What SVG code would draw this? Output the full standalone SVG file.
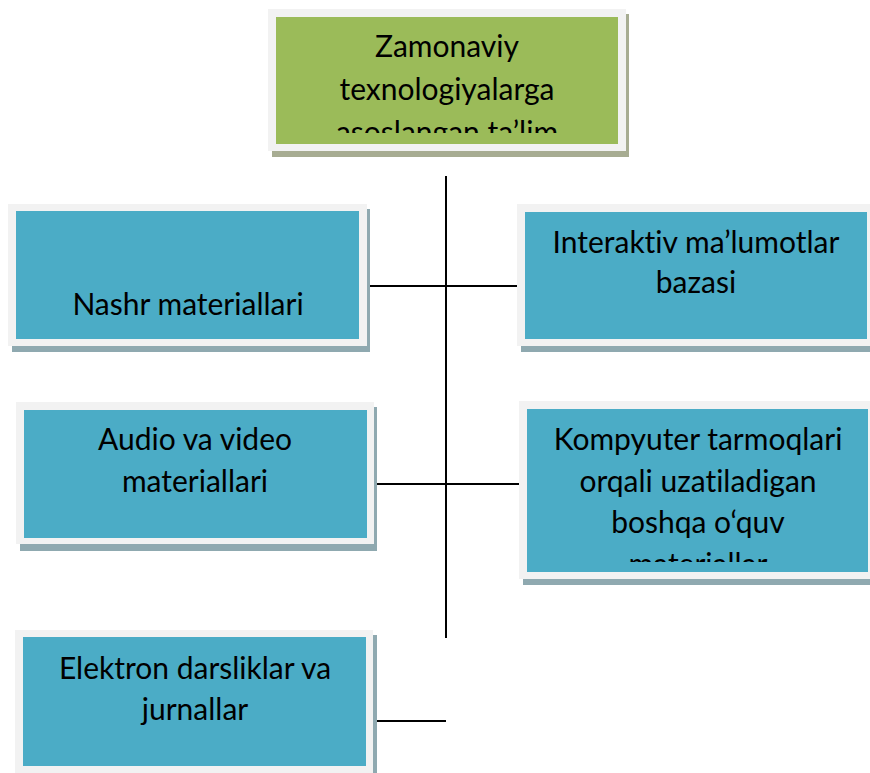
<svg xmlns="http://www.w3.org/2000/svg" width="870" height="773" viewBox="0 0 870 773">
<style>
.frame{fill:#f2f2f2}
.sh{fill:#8fa9b0}
.shg{fill:#a7ac92}
.box{fill:#4bacc6}
.gbox{fill:#9bbb59}
text{font-family:Lato,"Open Sans","Noto Sans",sans-serif;font-size:30px;fill:#000;text-anchor:middle;font-variant-ligatures:none;font-feature-settings:"liga" 0}
.ln{stroke:#000;stroke-width:2;fill:none}
</style>
<defs>
<clipPath id="c0"><rect x="276" y="17" width="342" height="116"/></clipPath>
<clipPath id="c4"><rect x="527" y="409" width="341" height="153"/></clipPath>
</defs>
<rect width="870" height="773" fill="#fff"/>
<g id="connectors">
<line class="ln" x1="446" y1="176" x2="446" y2="638"/>
<line class="ln" x1="370" y1="286" x2="518" y2="286"/>
<line class="ln" x1="375" y1="484" x2="520" y2="484"/>
<line class="ln" x1="373" y1="721" x2="446" y2="721"/>
</g>
<g id="n0">
<rect class="shg" x="272" y="14" width="357" height="143"/>
<rect class="frame" x="268" y="9" width="358" height="142"/>
<rect class="gbox" x="276" y="17" width="342" height="127"/>
<g clip-path="url(#c0)">
<text x="447" y="57">Zamonaviy</text>
<text x="447" y="100">texnologiyalarga</text>
<text x="447" y="143">asoslangan ta’lim</text>
</g>
</g>
<g id="n1">
<rect class="sh" x="12" y="209" width="358" height="143"/>
<rect class="frame" x="8" y="204" width="359" height="142"/>
<rect class="box" x="16" y="211" width="343" height="128"/>
<text x="188" y="315">Nashr materiallari</text>
</g>
<g id="n2">
<rect class="sh" x="521" y="209" width="349" height="143"/>
<rect class="frame" x="517" y="204" width="353" height="142"/>
<rect class="box" x="525" y="212" width="342" height="127"/>
<text x="696" y="253">Interaktiv ma’lumotlar</text>
<text x="696" y="293">bazasi</text>
</g>
<g id="n3">
<rect class="sh" x="20" y="407" width="357" height="144"/>
<rect class="frame" x="16" y="402" width="358" height="142"/>
<rect class="box" x="24" y="410" width="343" height="128"/>
<text x="195" y="450">Audio va video</text>
<text x="195" y="492">materiallari</text>
</g>
<g id="n4">
<rect class="sh" x="523" y="406" width="347" height="179"/>
<rect class="frame" x="519" y="401" width="351" height="178"/>
<rect class="box" x="527" y="409" width="341" height="163"/>
<g clip-path="url(#c4)">
<text x="698" y="450">Kompyuter tarmoqlari</text>
<text x="698" y="492">orqali uzatiladigan</text>
<text x="698" y="533">boshqa o‘quv</text>
<text x="698" y="575">materiallar</text>
</g>
</g>
<g id="n5">
<rect class="sh" x="19" y="635" width="358" height="145"/>
<rect class="frame" x="15" y="630" width="358" height="143"/>
<rect class="box" x="23" y="637" width="343" height="129"/>
<text x="195" y="679">Elektron darsliklar va</text>
<text x="195" y="720">jurnallar</text>
</g>
</svg>
